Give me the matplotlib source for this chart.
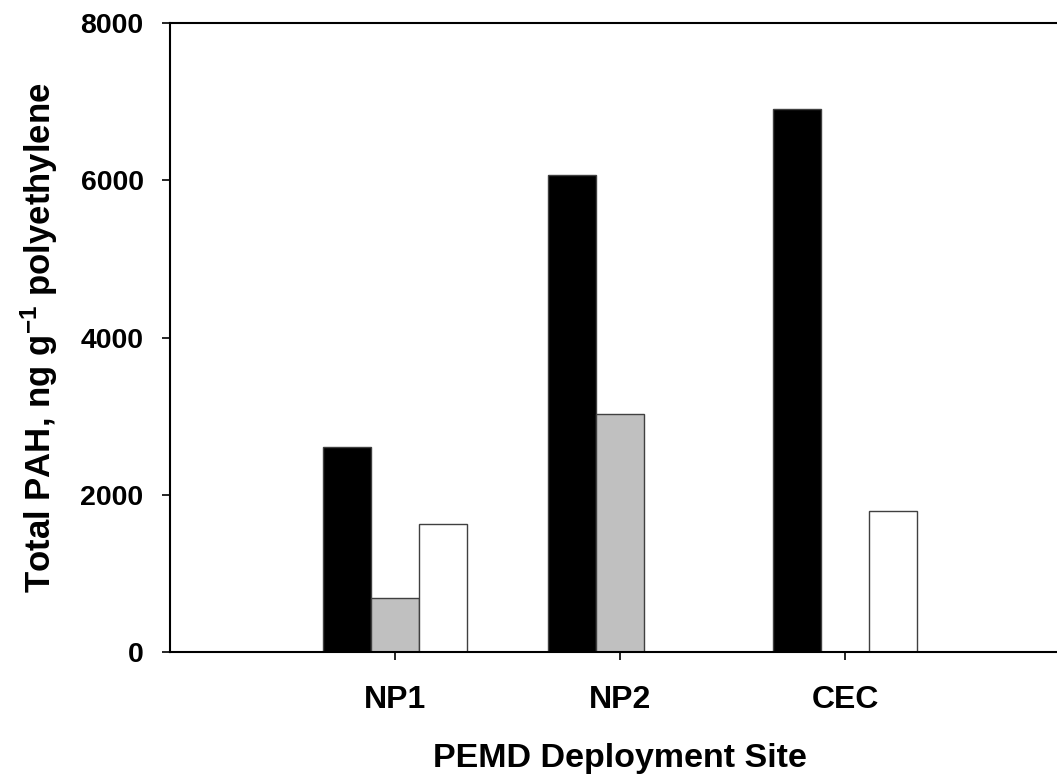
import matplotlib
matplotlib.use("Agg")
import matplotlib.pyplot as plt
import numpy as np

sites = ["NP1", "NP2", "CEC"]
series_black = [2607, 6067, 6906]
series_grey = [683, 3027, 0]
series_white = [1628, 0, 1797]
yticks = [0, 2000, 4000, 6000, 8000]

plt.rcParams['font.family'] = ['Liberation Sans', 'DejaVu Sans']
plt.rcParams['font.weight'] = 'bold'
plt.rcParams['mathtext.fontset'] = 'custom'
plt.rcParams['mathtext.rm'] = 'Liberation Sans:bold'
plt.rcParams['mathtext.it'] = 'Liberation Sans:bold'
plt.rcParams['mathtext.bf'] = 'Liberation Sans:bold'
plt.rcParams['mathtext.default'] = 'rm'

fig = plt.figure(figsize=(10.57, 7.79), dpi=100)
W, H = 1057, 779
ax = fig.add_axes([170 / W, (H - 652) / H, 900 / W, 629 / H])

x = np.arange(1, len(sites) + 1)
w = 0.212
ax.bar(x - w, series_black, w, color='black', edgecolor='#404040', linewidth=1)
ax.bar(x, series_grey, w, color='#c0c0c0', edgecolor='#404040', linewidth=1)
ax.bar(x + w, series_white, w, color='white', edgecolor='#404040', linewidth=1)

ax.set_xlim(0, 4)
ax.set_ylim(0, 8000)
ax.set_xticks(x)
ax.set_xticklabels(sites)
ax.set_yticks(yticks)
ax.set_yticklabels([str(v) for v in yticks])

for s in ['top', 'bottom', 'left']:
    ax.spines[s].set_linewidth(1.5)
ax.spines['right'].set_visible(False)

ax.tick_params(axis='both', direction='out', length=6, width=1.2)
ax.tick_params(axis='y', pad=13, labelsize=20.5)
ax.tick_params(axis='x', pad=18, labelsize=23)

ax.set_xlabel('PEMD Deployment Site', fontsize=24.5, fontweight='bold', labelpad=20)
ax.set_ylabel(r'Total PAH, ng g$^{-1}$ polyethylene', fontsize=25, fontweight='bold', labelpad=15)

fig.savefig('out.png', dpi=100)
